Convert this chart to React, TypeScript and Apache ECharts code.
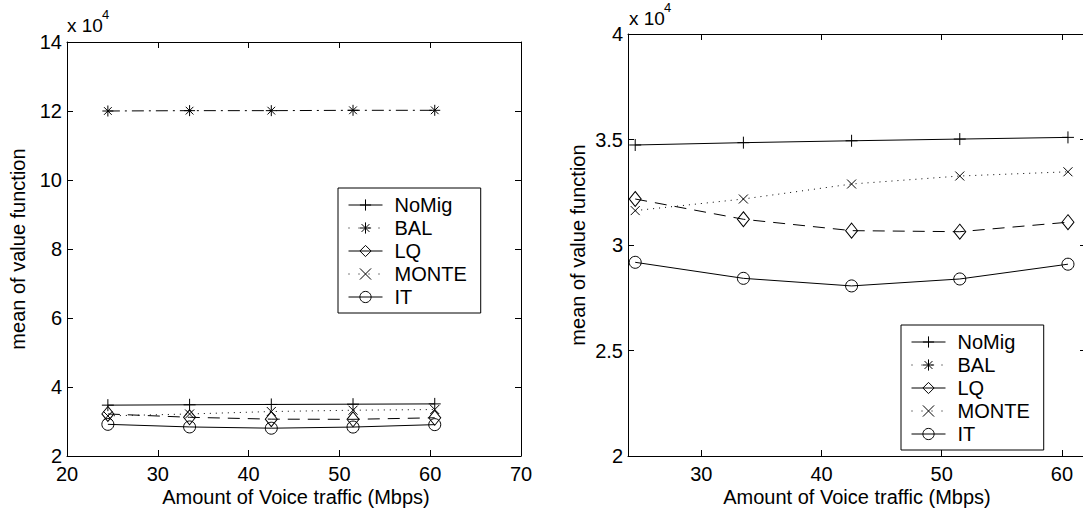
import React, { useEffect, useRef } from "react";
import * as echarts from "echarts";

const traffic = [24.5, 33.5, 42.5, 51.5, 60.5];
const seriesNames = ["NoMig", "BAL", "LQ", "MONTE", "IT"];
const noMig = [3.474, 3.485, 3.494, 3.502, 3.51];
const bal = [12.0, 12.01, 12.01, 12.02, 12.02];
const lq = [3.218, 3.122, 3.068, 3.063, 3.108];
const monte = [3.163, 3.218, 3.289, 3.327, 3.347];
const it = [2.918, 2.842, 2.806, 2.839, 2.909];
const leftXTicks = [20, 30, 40, 50, 60, 70];
const rightXTicks = [30, 40, 50, 60];
const xTitle = "Amount of Voice traffic (Mbps)";
const yTitle = "mean of value function";

const FONT = "'Liberation Sans', Arial, Helvetica, sans-serif";

const PLUS = "path://M0,6L12,6M6,0L6,12";
const STAR = "path://M6,0L6,12M0,6L12,6M1.8,1.8L10.2,10.2M10.2,1.8L1.8,10.2";
const CROSS = "path://M0,0L10,10M10,0L0,10";

const styles: Record<string, any> = {
  NoMig: { symbol: PLUS, symbolSize: 12, type: "solid", legendType: "solid" },
  BAL: { symbol: STAR, symbolSize: 11, type: [12, 5, 2, 5], legendType: [1, 9] },
  LQ: { symbol: "diamond", symbolSize: [12, 15], type: [12, 8], legendType: "solid" },
  MONTE: { symbol: CROSS, symbolSize: 9, type: [1, 5], legendType: [1, 9] },
  IT: { symbol: "circle", symbolSize: 12, type: "solid", legendType: "solid" },
};
const values: Record<string, number[]> = { NoMig: noMig, BAL: bal, LQ: lq, MONTE: monte, IT: it };

export default function App() {
  const ref = useRef<HTMLDivElement>(null);
  useEffect(() => {
    if (!ref.current) return;
    const chart = echarts.init(ref.current, undefined, { renderer: "svg" });
    const axisLine = { show: true, lineStyle: { color: "#000", width: 1 } };
    const tick = { show: true, inside: true, length: 6, lineStyle: { color: "#000" } };
    const label = { color: "#000", fontSize: 20, fontFamily: FONT };
    const xBase = (grid: number, min: number, max: number, pos: string, showLabel: boolean, custom?: number[]) => ({
      type: "value",
      gridIndex: grid,
      min,
      max,
      ...(custom ? {} : { interval: 10 }),
      position: pos,
      axisLine,
      axisTick: custom ? { ...tick, customValues: custom } : tick,
      axisLabel: custom
        ? { ...label, show: showLabel, margin: 8, customValues: custom }
        : { ...label, show: showLabel, margin: 8 },
      splitLine: { show: false },
    });
    const yBase = (grid: number, min: number, max: number, interval: number, pos: string, showLabel: boolean) => ({
      type: "value",
      gridIndex: grid,
      min,
      max,
      interval,
      position: pos,
      axisLine,
      axisTick: tick,
      axisLabel: { ...label, show: showLabel, margin: 5 },
      splitLine: { show: false },
    });
    const series: any[] = [];
    [0, 1].forEach((g) => {
      seriesNames.forEach((name) => {
        const s = styles[name];
        series.push({
          type: "line",
          name,
          xAxisIndex: g * 2,
          yAxisIndex: g * 2,
          data: traffic.map((x, i) => [x, values[name][i]]),
          symbol: s.symbol,
          symbolSize: s.symbolSize,
          showAllSymbol: true,
          clip: true,
          silent: true,
          itemStyle: { color: "none", borderColor: "#000", borderWidth: 1 },
          lineStyle: { color: "#000", width: 1, type: s.type },
          emphasis: { disabled: true },
        });
      });
    });
    const legendBase = {
      orient: "vertical",
      data: seriesNames.map((name) => ({
        name,
        lineStyle: { color: "#000", width: 1, type: styles[name].legendType },
        itemStyle: { color: "none", borderColor: "#000", borderWidth: 1 },
      })),
      itemWidth: 34,
      itemHeight: 14,
      itemGap: 3,
      padding: [7, 14, 6, 10],
      borderColor: "#000",
      borderWidth: 1,
      borderRadius: 0,
      backgroundColor: "#fff",
      selectedMode: false,
      lineStyle: { width: 1 },
      textStyle: { color: "#000", fontSize: 20, fontFamily: FONT, lineHeight: 20, padding: [0, 0, 0, 7] },
    };
    const txt = (text: string, x: number, y: number, size: number, rot = 0, align = "center") => ({
      type: "text",
      x,
      y,
      rotation: rot,
      style: { text, fill: "#000", font: `${size}px ${FONT}`, align, verticalAlign: "middle" },
    });
    chart.setOption({
      animation: false,
      backgroundColor: "#fff",
      grid: [
        { left: 67, top: 42, width: 454, height: 414 },
        { left: 628, top: 34, width: 458, height: 422 },
      ],
      xAxis: [
        xBase(0, leftXTicks[0], leftXTicks[leftXTicks.length - 1], "bottom", true),
        xBase(0, leftXTicks[0], leftXTicks[leftXTicks.length - 1], "top", false),
        xBase(1, 23.9, 62, "bottom", true, rightXTicks),
        xBase(1, 23.9, 62, "top", false, rightXTicks),
      ],
      yAxis: [
        yBase(0, 2, 14, 2, "left", true),
        yBase(0, 2, 14, 2, "right", false),
        yBase(1, 2, 4, 0.5, "left", true),
        yBase(1, 2, 4, 0.5, "right", false),
      ],
      legend: [
        { ...legendBase, left: 338, top: 188 },
        { ...legendBase, left: 901, top: 325 },
      ],
      series,
      graphic: [
        txt("x 10", 67, 25, 19, 0, "left"),
        txt("4", 102, 14, 13, 0, "left"),
        txt("x 10", 629, 18, 19, 0, "left"),
        txt("4", 664, 7, 13, 0, "left"),
        txt(yTitle, 18, 249, 20, Math.PI / 2),
        txt(yTitle, 578, 245, 20, Math.PI / 2),
        txt(xTitle, 296, 497, 20),
        txt(xTitle, 857, 497, 20),
      ],
    });
    return () => chart.dispose();
  }, []);
  return (
    <div style={{ position: "fixed", left: 0, top: 0, width: 1083, height: 514, overflow: "hidden", background: "#fff" }}>
      <div ref={ref} style={{ width: 1100, height: 514 }} />
    </div>
  );
}
